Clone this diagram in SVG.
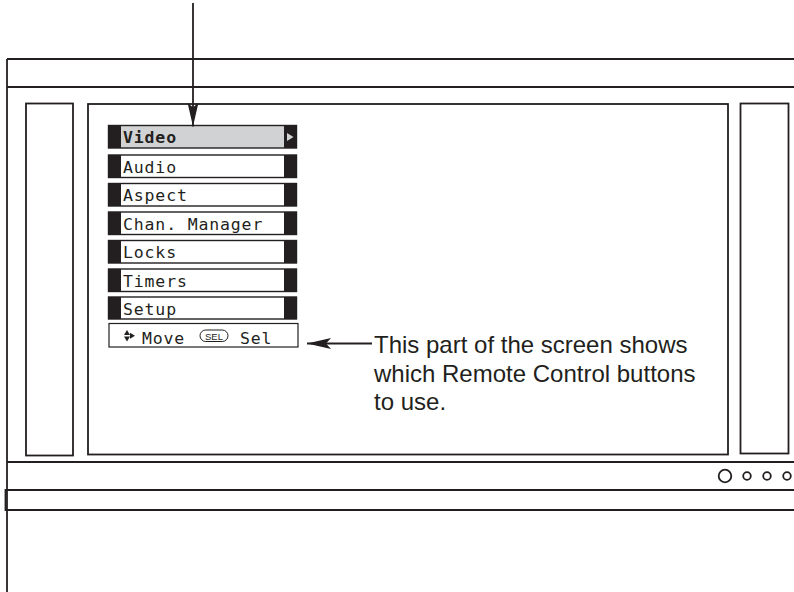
<svg xmlns="http://www.w3.org/2000/svg" width="794" height="592" viewBox="0 0 794 592">
<defs>
<style>
.ln{stroke:#231f20;stroke-width:1.8;fill:none}
.row{fill:#fff;stroke:#231f20;stroke-width:1.4}
.blk{fill:#231f20}
.mt{font-family:"DejaVu Sans Mono","Liberation Mono",monospace;font-size:16.5px;letter-spacing:0.85px;fill:#231f20}
.ct{font-family:"Liberation Sans",Arial,sans-serif;font-size:24px;fill:#231f20}
</style>
<marker id="ah" viewBox="0 0 24 11" refX="24" refY="5.5" markerWidth="24" markerHeight="11" markerUnits="userSpaceOnUse" orient="auto">
<path d="M0,0 L24,5.5 L0,11 L5,5.5 Z" fill="#231f20"/>
</marker>
</defs>
<rect width="794" height="592" fill="#fff"/>
<g id="tv-frame">
<line class="ln" x1="7" y1="59" x2="794" y2="59"/>
<line class="ln" x1="7" y1="87" x2="794" y2="87"/>
<line class="ln" x1="7" y1="59" x2="7" y2="592"/>
<line class="ln" x1="7" y1="462" x2="794" y2="462"/>
<path class="ln" d="M794,490 H5.5 V510 H794"/>
<rect class="ln" x="26" y="103.5" width="47" height="352"/>
<rect class="ln" x="88" y="104" width="640" height="350.5"/>
<rect class="ln" x="740.5" y="103.5" width="48" height="350"/>
<circle class="ln" cx="725" cy="476" r="6.3" stroke-width="1.6"/>
<circle class="ln" cx="747" cy="476" r="3.8" stroke-width="1.2"/>
<circle class="ln" cx="767" cy="476" r="3.8" stroke-width="1.2"/>
<circle class="ln" cx="787" cy="476" r="3.8" stroke-width="1.2"/>
</g>
<g id="menu-video">
<rect x="108.5" y="125.5" width="188" height="22.5" fill="#d1d2d4" stroke="#231f20" stroke-width="1.4"/>
<rect class="blk" x="108.5" y="125.5" width="12.5" height="22.5"/>
<rect class="blk" x="284" y="125.5" width="12.5" height="22.5"/>
<polygon points="287,133 293.5,137 287,141" fill="#d1d2d4"/>
<text class="mt" x="123" y="143" font-weight="bold">Video</text>
</g>
<g id="menu-audio">
<rect class="row" x="108.5" y="155" width="188" height="22.5"/>
<rect class="blk" x="108.5" y="155" width="12.5" height="22.5"/>
<rect class="blk" x="284" y="155" width="12.5" height="22.5"/>
<text class="mt" x="123" y="172.5">Audio</text>
</g>
<g id="menu-aspect">
<rect class="row" x="108.5" y="183.5" width="188" height="22.5"/>
<rect class="blk" x="108.5" y="183.5" width="12.5" height="22.5"/>
<rect class="blk" x="284" y="183.5" width="12.5" height="22.5"/>
<text class="mt" x="123" y="201">Aspect</text>
</g>
<g id="menu-chan">
<rect class="row" x="108.5" y="212" width="188" height="22.5"/>
<rect class="blk" x="108.5" y="212" width="12.5" height="22.5"/>
<rect class="blk" x="284" y="212" width="12.5" height="22.5"/>
<text class="mt" x="123" y="229.5">Chan. Manager</text>
</g>
<g id="menu-locks">
<rect class="row" x="108.5" y="240.5" width="188" height="22.5"/>
<rect class="blk" x="108.5" y="240.5" width="12.5" height="22.5"/>
<rect class="blk" x="284" y="240.5" width="12.5" height="22.5"/>
<text class="mt" x="123" y="258">Locks</text>
</g>
<g id="menu-timers">
<rect class="row" x="108.5" y="269" width="188" height="22.5"/>
<rect class="blk" x="108.5" y="269" width="12.5" height="22.5"/>
<rect class="blk" x="284" y="269" width="12.5" height="22.5"/>
<text class="mt" x="123" y="286.5">Timers</text>
</g>
<g id="menu-setup">
<rect class="row" x="108.5" y="297" width="188" height="22"/>
<rect class="blk" x="108.5" y="297" width="12.5" height="22"/>
<rect class="blk" x="284" y="297" width="12.5" height="22"/>
<text class="mt" x="123" y="314.5">Setup</text>
</g>
<g id="menu-help">
<rect x="109" y="323.5" width="189" height="23.5" fill="#fff" stroke="#231f20" stroke-width="1.2"/>
<polygon points="124,335 127,330 130,335" fill="#231f20"/>
<polygon points="124,336.5 130,336.5 127,341.5" fill="#231f20"/>
<polygon points="130,332.8 135,335.8 130,338.8" fill="#231f20"/>
<text class="mt" x="142" y="343.5">Move</text>
<rect x="200" y="330" width="28" height="11.5" rx="5.75" fill="none" stroke="#231f20" stroke-width="1"/>
<text x="214" y="339.5" text-anchor="middle" font-family="Liberation Sans,Arial,sans-serif" font-size="9.5" fill="#231f20">SEL</text>
<text class="mt" x="240" y="343.5">Sel</text>
</g>
<g id="connectors">
<line class="ln" x1="193" y1="3" x2="193" y2="126.5" stroke-width="2.2" marker-end="url(#ah)"/>
<line class="ln" x1="372" y1="343.5" x2="307" y2="343.5" stroke-width="2" marker-end="url(#ah)"/>
</g>
<g id="callout">
<text class="ct" x="374" y="353">This part of the screen shows</text>
<text class="ct" x="374" y="381.5">which Remote Control buttons</text>
<text class="ct" x="374" y="410">to use.</text>
</g>
</svg>
